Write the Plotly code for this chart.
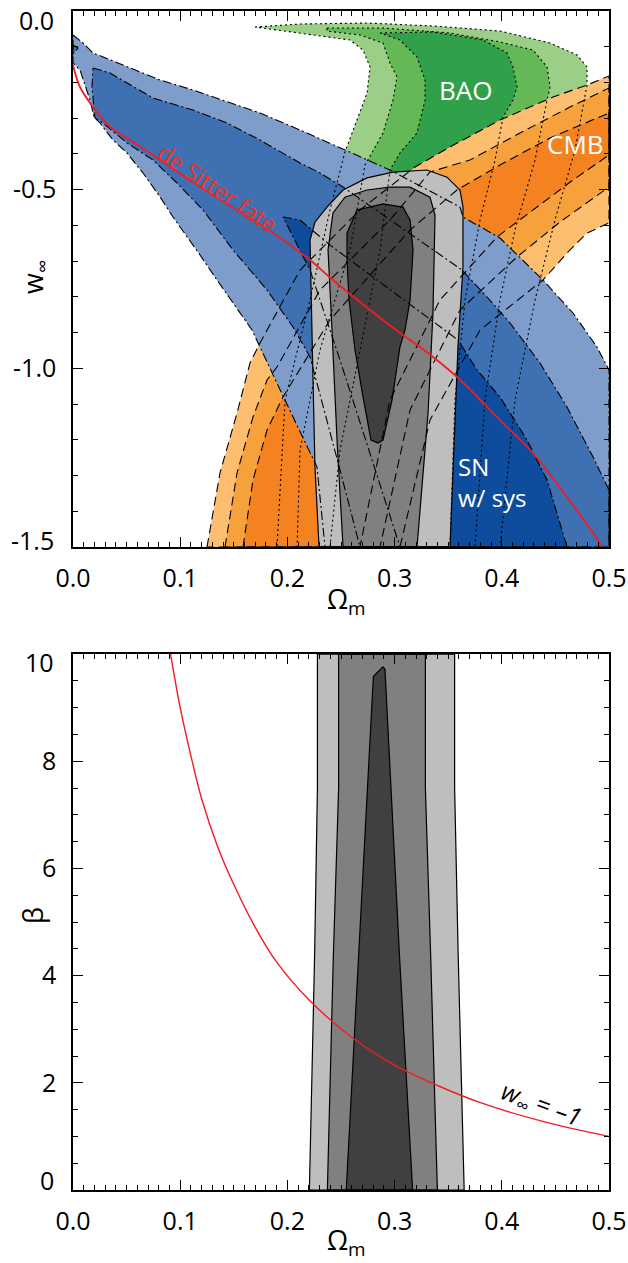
import plotly.graph_objects as go

# ================= TOP PANEL (Omega_m , w_inf) =================
# BAO contours (99.7 / 95 / 68 %)
BAO997_OM = [0.1698, 0.2118, 0.2743, 0.3358, 0.3983, 0.4450, 0.4701, 0.4795, 0.4795, 0.4683, 0.4496, 0.4310, 0.4123, 0.3983,
             0.1903, 0.1978, 0.2211, 0.2397, 0.2537, 0.2649, 0.2743, 0.2771, 0.2705, 0.2584, 0.2118]
BAO997_W = [-0.0448, -0.0364, -0.0336, -0.0420, -0.0560, -0.0896, -0.1231, -0.1567, -0.2071, -0.3890, -0.5849, -0.8088, -1.0887, -1.5,
            -1.5, -1.0887, -0.8088, -0.5570, -0.3946, -0.3051, -0.2295, -0.1567, -0.1092, -0.0812, -0.0616]
BAO95_OM = [0.2369, 0.2892, 0.3517, 0.3983, 0.4291, 0.4422, 0.4450, 0.4422, 0.4310, 0.4123, 0.3983, 0.3843, 0.3750,
            0.2090, 0.2118, 0.2304, 0.2584, 0.2724, 0.2892, 0.2985, 0.3022, 0.2957, 0.2892, 0.2677, 0.2369]
BAO95_W = [-0.0476, -0.0476, -0.0616, -0.0868, -0.1092, -0.1567, -0.2127, -0.2491, -0.4170, -0.6129, -0.8088, -1.0887, -1.5,
           -1.5, -1.2287, -0.9488, -0.6689, -0.4310, -0.3415, -0.2491, -0.1847, -0.1455, -0.0896, -0.0672, -0.0560]
BAO68_OM = [0.2864, 0.3358, 0.3825, 0.4049, 0.4104, 0.4142, 0.4104, 0.4011, 0.3937, 0.3797, 0.3657, 0.3563, 0.3517,
            0.2397, 0.2491, 0.2677, 0.2864, 0.2957, 0.3050, 0.3209, 0.3284, 0.3284, 0.3209, 0.3050]
BAO68_W = [-0.0616, -0.0588, -0.0812, -0.1175, -0.1567, -0.2127, -0.2491, -0.2967, -0.4170, -0.5849, -0.8088, -1.0887, -1.5,
           -1.5, -1.2287, -0.9488, -0.6689, -0.4450, -0.3974, -0.3415, -0.2491, -0.1931, -0.1287, -0.0812]

# CMB contours
CMB997_OM = [0.1250, 0.1371, 0.1530, 0.1651, 0.1744, 0.2118, 0.2677, 0.3190, 0.3517, 0.3983, 0.4478, 0.4795, 0.5,
             0.5, 0.4795, 0.4608, 0.4384, 0.3797, 0.3330, 0.3050]
CMB997_W = [-1.5, -1.2930, -1.1251, -0.9852, -0.9292, -0.7249, -0.5570, -0.4366, -0.3806, -0.3051, -0.2407, -0.2071, -0.1819,
            -0.5933, -0.6213, -0.6773, -0.7529, -0.8928, -1.1447, -1.5]
CMB95_OM = [0.1418, 0.1530, 0.1679, 0.1810, 0.1903, 0.2304, 0.2957, 0.3330, 0.3703, 0.4170, 0.4636, 0.5,
            0.5, 0.4543, 0.4142, 0.3610, 0.3144, 0.2864]
CMB95_W = [-1.5, -1.2930, -1.1363, -1.0327, -0.9964, -0.7809, -0.5849, -0.4506, -0.4170, -0.3415, -0.2687, -0.2155,
           -0.4926, -0.5905, -0.6885, -0.8368, -1.1167, -1.5]
CMB68_OM = [0.1586, 0.1679, 0.1810, 0.1959, 0.2397, 0.3144, 0.3582, 0.3983, 0.4450, 0.5,
            0.5, 0.4664, 0.3955, 0.3423, 0.2957, 0.2677]
CMB68_W = [-1.5, -1.3126, -1.1727, -1.0803, -0.8648, -0.6129, -0.5010, -0.4310, -0.3554, -0.2855,
           -0.4030, -0.4730, -0.6325, -0.8088, -1.0887, -1.5]

# SN (with systematics) contours
SN997_OM = [0.0, 0.0093, 0.0187, 0.0280, 0.0504, 0.0812, 0.1119, 0.1437, 0.1744, 0.2118, 0.2304, 0.2957, 0.3610, 0.3638,
            0.3983, 0.4384, 0.4664, 0.4888, 0.5, 0.5, 0.2351, 0.2276, 0.1959, 0.1670, 0.1343, 0.1185, 0.0933, 0.0812,
            0.0653, 0.0504, 0.0373, 0.0252, 0.0196, 0.0159, 0.0112, 0.0065, 0.0]
SN997_W = [-0.0672, -0.0896, -0.1175, -0.1287, -0.1567, -0.1931, -0.2211, -0.2547, -0.2855, -0.3331, -0.3582, -0.4450, -0.5486,
           -0.5766, -0.6353, -0.7529, -0.8452, -0.9404, -1.0048, -1.5, -1.5, -1.2763, -1.0775, -0.8928, -0.7529, -0.6829,
           -0.5766, -0.5206, -0.4534, -0.3974, -0.3611, -0.3135, -0.2967, -0.2491, -0.2071, -0.1651, -0.1455]
SN95_OM = [0.0187, 0.0345, 0.0746, 0.1119, 0.1437, 0.1744, 0.2118, 0.2304, 0.2519, 0.3629, 0.3862, 0.4077, 0.4356, 0.4608,
           0.4851, 0.5, 0.5, 0.2677, 0.2491, 0.2239, 0.2211, 0.2052, 0.1810, 0.1493, 0.1213, 0.0970, 0.0746, 0.0504,
           0.0280, 0.0205, 0.0177]
SN95_W = [-0.1595, -0.1735, -0.2435, -0.2771, -0.3135, -0.3611, -0.4254, -0.4534, -0.4926, -0.7249, -0.8004, -0.8732, -0.9852,
          -1.1083, -1.2483, -1.3406, -1.5, -1.5, -1.2846, -0.9964, -0.9684, -0.8844, -0.7809, -0.6689, -0.5570, -0.4814,
          -0.4170, -0.3694, -0.3135, -0.2995, -0.2127]
SN95TIP_OM = [0.0, 0.0047, 0.0]
SN95TIP_W = [-0.0952, -0.1036, -0.1203]
SN68_OM = [0.1959, 0.2118, 0.2229, 0.2397, 0.3591, 0.3769, 0.3983, 0.4235, 0.4422, 0.4608, 0.3050, 0.2491, 0.2211]
SN68_W = [-0.5766, -0.5849, -0.6129, -0.6549, -0.9208, -1.0048, -1.0803, -1.2007, -1.3126, -1.5, -1.5, -0.9768, -0.7249]

# Combined contours
ALL997_OM = [0.2295, 0.2257, 0.2239, 0.2220, 0.2211, 0.2257, 0.2369, 0.2519, 0.2743, 0.2985, 0.3302, 0.3489, 0.3610,
             0.3638, 0.3638, 0.3591, 0.3554, 0.3517]
ALL997_W = [-1.5, -1.276, -1.033, -0.809, -0.641, -0.591, -0.549, -0.501, -0.467, -0.451, -0.445, -0.465, -0.501,
            -0.549, -0.716, -0.940, -1.229, -1.5]
ALL95_OM = [0.2519, 0.2463, 0.2416, 0.2379, 0.2425, 0.2537, 0.2743, 0.2957, 0.3144, 0.3330, 0.3377, 0.3358, 0.3312,
            0.3237, 0.3209]
ALL95_W = [-1.5, -1.201, -0.893, -0.669, -0.565, -0.521, -0.501, -0.493, -0.493, -0.521, -0.571, -0.845, -1.125,
           -1.405, -1.5]
ALL68_OM = [0.2556, 0.2649, 0.2892, 0.3078, 0.3144, 0.3172, 0.3144, 0.3097, 0.3050, 0.2976, 0.2892, 0.2845, 0.2780,
            0.2705, 0.2631, 0.2575, 0.2556]
ALL68_W = [-0.621, -0.557, -0.540, -0.549, -0.585, -0.669, -0.809, -0.893, -0.940, -1.089, -1.201, -1.209, -1.201,
           -1.080, -0.949, -0.809, -0.697]

# de Sitter fate curve
DS_OM = [0.0, 0.0065, 0.0187, 0.0345, 0.0504, 0.0746, 0.1185, 0.1866, 0.2211, 0.2425, 0.3050, 0.3237, 0.3582,
         0.3983, 0.4291, 0.4608, 0.4916, 0.4935]
DS_W = [-0.1511, -0.2127, -0.2687, -0.3247, -0.3554, -0.4030, -0.4926, -0.6213, -0.6969, -0.7529, -0.9012, -0.9404,
        -1.0243, -1.1447, -1.2371, -1.3602, -1.4889, -1.5]

# ================= BOTTOM PANEL (Omega_m , beta) =================
B997_OM = [0.2205, 0.2254, 0.2280, 0.2280, 0.3560, 0.3560, 0.3593, 0.3649]
B997_BETA = [0.0, 4.4, 7.5, 10.0, 10.0, 7.5, 4.4, 0.0]
B95_OM = [0.2373, 0.2429, 0.2478, 0.2478, 0.3287, 0.3287, 0.3336, 0.3399]
B95_BETA = [0.0, 4.4, 7.5, 10.0, 10.0, 7.5, 4.4, 0.0]
B68_OM = [0.2549, 0.2664, 0.2802, 0.2890, 0.2910, 0.3045, 0.3168]
B68_BETA = [0.0, 4.4, 9.58, 9.76, 9.72, 4.4, 0.0]

WM1_OM = [0.0910, 0.10, 0.11, 0.12, 0.135, 0.15, 0.17, 0.19, 0.22, 0.26, 0.30, 0.34, 0.38, 0.44, 0.50]
WM1_BETA = [10.0, 9.0, 8.1, 7.3, 6.4, 5.7, 4.9, 4.25, 3.55, 2.85, 2.33, 1.95, 1.63, 1.27, 1.0]

# Tick labels (edge labels of the y axes are drawn slightly inside the frame, as in the original)
X_TICKS = [0.0, 0.1, 0.2, 0.3, 0.4, 0.5]
X_LABELS = ["0.0", "0.1", "0.2", "0.3", "0.4", "0.5"]
W_TICKS = [0.0, -0.5, -1.0, -1.5]
W_LABELS = ["", "-0.5", "-1.0", ""]
W_EDGE_LABELS = ["0.0", "-1.5"]
W_EDGE_POS = [-0.025, -1.481]
B_TICKS = [0, 2, 4, 6, 8, 10]
B_LABELS = ["", "2", "4", "6", "8", ""]
B_EDGE_LABELS = ["10", "0"]
B_EDGE_POS = [9.85, 0.19]

# ---------------------------------------------------------------
C_BAO = ["#9BCE86", "#64B856", "#30A04A"]
C_CMB = ["#FDBF6F", "#F7A13C", "#F58221"]
C_SN = ["#7F9DCB", "#3F70B2", "#0E4D9D"]
C_ALL = ["#BEBEBE", "#808080", "#404040"]

fig = go.Figure()


def closed(xs, ys):
    return list(xs) + [xs[0]], list(ys) + [ys[0]]


def add_fill(xs, ys, color, xa="x", ya="y"):
    cx, cy = closed(xs, ys)
    fig.add_trace(go.Scatter(x=cx, y=cy, fill="toself", fillcolor=color, mode="lines",
                             line=dict(width=0, color=color), hoverinfo="skip", showlegend=False,
                             xaxis=xa, yaxis=ya))


def add_line(xs, ys, dash, width=1.1, xa="x", ya="y"):
    cx, cy = closed(xs, ys)
    fig.add_trace(go.Scatter(x=cx, y=cy, mode="lines", line=dict(color="black", width=width, dash=dash),
                             hoverinfo="skip", showlegend=False, xaxis=xa, yaxis=ya))


bao = [(BAO997_OM, BAO997_W), (BAO95_OM, BAO95_W), (BAO68_OM, BAO68_W)]
cmb = [(CMB997_OM, CMB997_W), (CMB95_OM, CMB95_W), (CMB68_OM, CMB68_W)]
sn = [(SN997_OM, SN997_W), (SN95_OM, SN95_W), (SN68_OM, SN68_W)]
comb = [(ALL997_OM, ALL997_W), (ALL95_OM, ALL95_W), (ALL68_OM, ALL68_W)]

for (xs, ys), c in zip(bao, C_BAO):
    add_fill(xs, ys, c)
for (xs, ys), c in zip(cmb, C_CMB):
    add_fill(xs, ys, c)
add_fill(SN997_OM, SN997_W, C_SN[0])
add_fill(SN95_OM, SN95_W, C_SN[1])
add_fill(SN95TIP_OM, SN95TIP_W, C_SN[1])
add_fill(SN68_OM, SN68_W, C_SN[2])
for (xs, ys), c in zip(comb, C_ALL):
    add_fill(xs, ys, c)

for xs, ys in bao:
    add_line(xs, ys, "2px,3px")
for xs, ys in cmb:
    add_line(xs, ys, "9px,5px")
for xs, ys in sn:
    add_line(xs, ys, "9px,3px,2px,3px")
add_line(SN95TIP_OM, SN95TIP_W, "9px,3px,2px,3px")
for xs, ys in comb:
    add_line(xs, ys, "solid", 1.2)

fig.add_trace(go.Scatter(x=DS_OM, y=DS_W, mode="lines", line=dict(color="#F21C24", width=1.8, shape="spline"),
                         hoverinfo="skip", showlegend=False, xaxis="x", yaxis="y"))

# bottom panel
for (xs, ys), c in zip([(B997_OM, B997_BETA), (B95_OM, B95_BETA), (B68_OM, B68_BETA)], C_ALL):
    add_fill(xs, ys, c, "x2", "y2")
for xs, ys in [(B997_OM, B997_BETA), (B95_OM, B95_BETA), (B68_OM, B68_BETA)]:
    add_line(xs, ys, "solid", 1.2, "x2", "y2")
fig.add_trace(go.Scatter(x=WM1_OM, y=WM1_BETA, mode="lines", line=dict(color="#F21C24", width=1.4, shape="spline"),
                         hoverinfo="skip", showlegend=False, xaxis="x2", yaxis="y2"))

FONT = "Open Sans"
tickfont = dict(family=FONT, size=25, color="black")
common = dict(showline=True, linecolor="black", linewidth=1.5, mirror="ticks", ticks="inside",
              ticklen=10, tickwidth=1, tickcolor="black", showgrid=False, zeroline=False,
              tickfont=tickfont, tickmode="array", automargin=False, ticklabeloverflow="allow")

fig.update_layout(
    width=628, height=1263,
    margin=dict(l=73, r=19, t=11, b=73),
    paper_bgcolor="white", plot_bgcolor="white",
    showlegend=False,
    xaxis=dict(domain=[0, 1], anchor="y", range=[0, 0.5], tickvals=X_TICKS, ticktext=X_LABELS,
               minor=dict(tickmode="linear", tick0=0, dtick=0.01, ticks="inside", ticklen=5, tickcolor="black"),
               ticklabelstandoff=8, **common),
    yaxis=dict(domain=[0.5454, 1], anchor="x", range=[-1.5, 0], tickvals=W_TICKS, ticktext=W_LABELS,
               minor=dict(tickmode="linear", tick0=0, dtick=0.1, ticks="inside", ticklen=5, tickcolor="black"),
               ticklabelstandoff=10, **common),
    xaxis2=dict(domain=[0, 1], anchor="y2", range=[0, 0.5], tickvals=X_TICKS, ticktext=X_LABELS,
                minor=dict(tickmode="linear", tick0=0, dtick=0.01, ticks="inside", ticklen=5, tickcolor="black"),
                ticklabelstandoff=8, **common),
    yaxis2=dict(domain=[0, 0.4546], anchor="x2", range=[0, 10], tickvals=B_TICKS, ticktext=B_LABELS,
                minor=dict(tickmode="linear", tick0=0, dtick=0.5, ticks="inside", ticklen=5, tickcolor="black"),
                ticklabelstandoff=10, **common),
)

ann = []
white = dict(family=FONT, size=26, color="white")
C = dict(showarrow=False, xanchor="center", yanchor="middle")
ann.append(dict(x=0.3657, y=-0.2211, xref="x", yref="y", text="BAO", font=white, **C))
ann.append(dict(x=0.4683, y=-0.3722, xref="x", yref="y", text="CMB", font=white, **C))
ann.append(dict(x=0.357, y=-1.318, xref="x", yref="y", text="SN<br>w/ sys", showarrow=False, align="left",
                font=dict(family=FONT, size=24, color="white"), xanchor="left", yanchor="middle"))
ann.append(dict(x=0.1353, y=-0.495, xref="x", yref="y", text="de Sitter fate", textangle=34,
                font=dict(family=FONT, size=23, color="#EE3124"), **C))
ann.append(dict(x=0.437, y=1.6, xref="x2", yref="y2", text="<i>w</i><sub>∞</sub> = <i>–1</i>",
                textangle=20, font=dict(family=FONT, size=25, color="black"), **C))
# edge tick labels of the y axes
for lab, pos in zip(W_EDGE_LABELS, W_EDGE_POS):
    ann.append(dict(x=-0.031, y=pos, xref="paper", yref="y", text=lab, showarrow=False,
                    xanchor="right", yanchor="middle", font=tickfont))
for lab, pos in zip(B_EDGE_LABELS, B_EDGE_POS):
    ann.append(dict(x=-0.031, y=pos, xref="paper", yref="y2", text=lab, showarrow=False,
                    xanchor="right", yanchor="middle", font=tickfont))
# axis titles
ann.append(dict(x=0.255, y=0.5004, xref="x", yref="paper", text="Ω<sub>m</sub>",
                font=dict(family=FONT, size=27, color="black"), **C))
ann.append(dict(x=0.255, y=-0.0436, xref="x2", yref="paper", text="Ω<sub>m</sub>",
                font=dict(family=FONT, size=27, color="black"), **C))
ann.append(dict(x=-0.0709, y=0.7744, xref="paper", yref="paper", text="w<sub>∞</sub>",
                textangle=-90, font=dict(family=FONT, size=27, color="black"), **C))
ann.append(dict(x=-0.0765, y=0.2332, xref="paper", yref="paper", text="β",
                textangle=-90, font=dict(family=FONT, size=27, color="black"), **C))
fig.update_layout(annotations=ann)

fig.write_html("out.html")
